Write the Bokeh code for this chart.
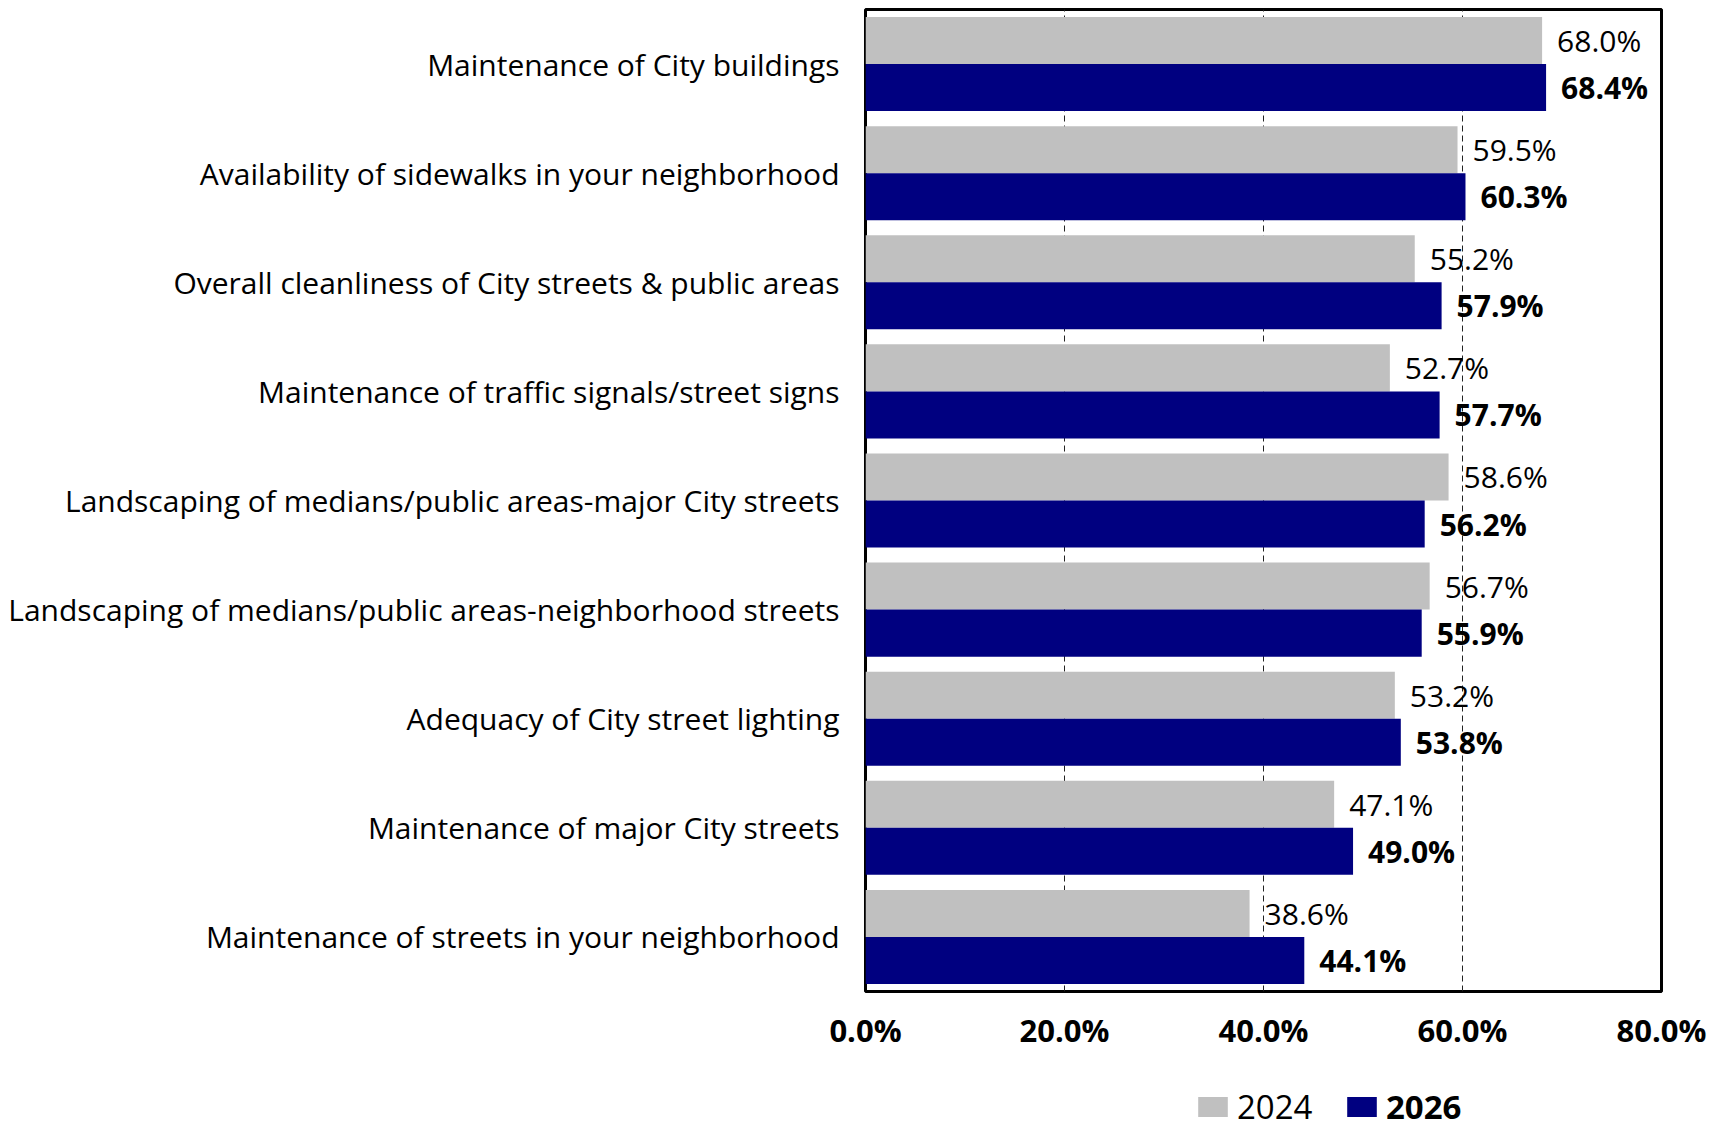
from bokeh.plotting import figure
from bokeh.layouts import column
from bokeh.models import (ColumnDataSource, FactorRange, Range1d, FixedTicker,
                          PrintfTickFormatter, Legend, LegendItem)
from bokeh.transform import dodge
from bokeh.core.properties import value
from bokeh.embed import file_html
from bokeh.resources import INLINE

# ---- data ----
categories = [
    "Maintenance of City buildings",
    "Availability of sidewalks in your neighborhood",
    "Overall cleanliness of City streets & public areas",
    "Maintenance of traffic signals/street signs",
    "Landscaping of medians/public areas-major City streets",
    "Landscaping of medians/public areas-neighborhood streets",
    "Adequacy of City street lighting",
    "Maintenance of major City streets",
    "Maintenance of streets in your neighborhood",
]
values_2024 = [68.0, 59.5, 55.2, 52.7, 58.6, 56.7, 53.2, 47.1, 38.6]
values_2026 = [68.4, 60.3, 57.9, 57.7, 56.2, 55.9, 53.8, 49.0, 44.1]
series_names = ["2024", "2026"]
x_ticks = [0, 20, 40, 60, 80]

GRAY = "#C0C0C0"
NAVY = "#000080"
FONT = "Open Sans"

src = ColumnDataSource(dict(
    cat=categories,
    v24=values_2024,
    v26=values_2026,
    l24=[f"{v:.1f}%" for v in values_2024],
    l26=[f"{v:.1f}%" for v in values_2026],
))

fig = figure(width=1722, height=1062,
             y_range=FactorRange(*categories[::-1], range_padding=0),
             x_range=Range1d(x_ticks[0], x_ticks[-1]),
             output_backend="svg", toolbar_location=None,
             min_border_left=865, min_border_right=61,
             min_border_top=9, min_border_bottom=71)

fig.outline_line_color = "black"
fig.outline_line_width = 3
fig.background_fill_color = "white"
fig.border_fill_color = "white"

BAR_H = 0.431
OFF = 0.2156

fig.hbar(y=dodge("cat", OFF, range=fig.y_range), right="v24", left=0, height=BAR_H,
         source=src, fill_color=GRAY, line_color=None)
fig.hbar(y=dodge("cat", -OFF, range=fig.y_range), right="v26", left=0, height=BAR_H,
         source=src, fill_color=NAVY, line_color=None)

fig.text(x="v24", y=dodge("cat", OFF, range=fig.y_range), text="l24", source=src,
         x_offset=15, y_offset=0, text_baseline="middle", text_align="left",
         text_font=value(FONT), text_font_size="30px", text_color="black")
fig.text(x="v26", y=dodge("cat", -OFF, range=fig.y_range), text="l26", source=src,
         x_offset=15, y_offset=0, text_baseline="middle", text_align="left",
         text_font=value(FONT), text_font_size="30px", text_font_style="bold",
         text_color="black")

# grid
fig.ygrid.grid_line_color = None
fig.xgrid.ticker = FixedTicker(ticks=x_ticks[1:-1])
fig.xgrid.grid_line_color = "#222222"
fig.xgrid.grid_line_dash = "6 4"
fig.xgrid.grid_line_width = 1

# x axis
xa = fig.xaxis[0]
xa.ticker = FixedTicker(ticks=x_ticks)
xa.formatter = PrintfTickFormatter(format="%.1f%%")
xa.axis_line_color = None
xa.major_tick_line_color = None
xa.minor_tick_line_color = None
xa.major_tick_out = 0
xa.major_tick_in = 0
xa.major_label_standoff = 17
xa.major_label_text_font = FONT
xa.major_label_text_font_size = "31px"
xa.major_label_text_font_style = "bold"
xa.major_label_text_color = "black"

# y axis
ya = fig.yaxis[0]
ya.axis_line_color = None
ya.major_tick_line_color = None
ya.minor_tick_line_color = None
ya.major_tick_out = 0
ya.major_tick_in = 0
ya.major_label_standoff = 26
ya.major_label_text_font = FONT
ya.major_label_text_font_size = "30px"
ya.major_label_text_color = "black"

# ---- legend strip below the chart (frame aligned with the chart's frame) ----
leg = figure(width=1722, height=66, x_axis_type=None, y_axis_type=None,
             x_range=Range1d(x_ticks[0], x_ticks[-1]), y_range=Range1d(0, 1),
             output_backend="svg", toolbar_location=None,
             min_border_left=865, min_border_right=61,
             min_border_top=0, min_border_bottom=0,
             outline_line_color=None)
leg.grid.visible = False
leg.background_fill_color = "white"
leg.border_fill_color = "white"
# zero-size placeholder renderers: they only supply the legend swatches
key_src = ColumnDataSource(dict(y=[0], left=[0], right=[0]))
k24 = leg.hbar(y="y", left="left", right="right", height=0, source=key_src,
               fill_color=GRAY, line_color=None)
k26 = leg.hbar(y="y", left="left", right="right", height=0, source=key_src,
               fill_color=NAVY, line_color=None)

lg_kw = dict(orientation="horizontal", glyph_width=37, glyph_height=25,
             label_height=25, label_standoff=6, padding=0, margin=0, spacing=0,
             border_line_color=None, background_fill_alpha=0,
             label_text_font=FONT, label_text_font_size="33px",
             label_text_color="black", label_text_baseline="middle")
lg1 = Legend(items=[LegendItem(label=series_names[0], renderers=[k24])],
             location=(329, -1), label_text_font_style="normal", **lg_kw)
lg2 = Legend(items=[LegendItem(label=series_names[1], renderers=[k26])],
             location=(478, -1), label_text_font_style="bold", **lg_kw)
leg.add_layout(lg1, "center")
leg.add_layout(lg2, "center")

p = column(fig, leg, spacing=0)

open("out.html", "w").write(file_html(p, INLINE))
